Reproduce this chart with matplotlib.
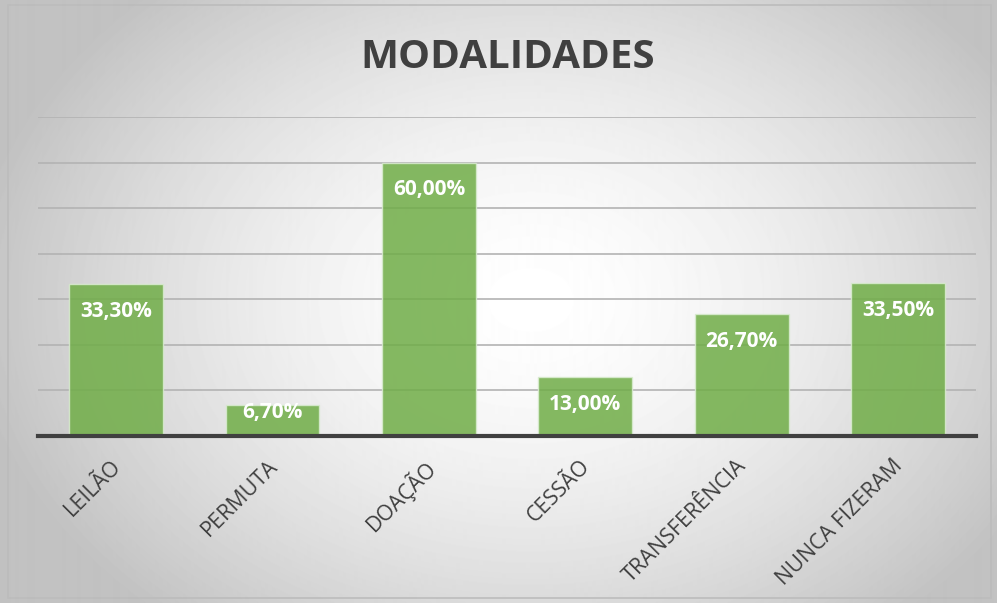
import numpy as np
import matplotlib.pyplot as plt
import matplotlib.transforms as mtransforms

# Data
categorias = ["LEILÃO", "PERMUTA", "DOAÇÃO", "CESSÃO", "TRANSFERÊNCIA", "NUNCA FIZERAM"]
valores = [33.3, 6.7, 60.0, 13.0, 26.7, 33.5]
rotulos = ["33,30%", "6,70%", "60,00%", "13,00%", "26,70%", "33,50%"]

plt.rcParams['font.family'] = ['Open Sans', 'DejaVu Sans']

fig = plt.figure(figsize=(9.97, 6.03), dpi=100)

# radial gradient background
bg = fig.add_axes([0, 0, 1, 1])
yy, xx = np.mgrid[0:603, 0:997]
r = np.sqrt(((xx - 530) / 560.0) ** 2 + ((yy - 300) / 420.0) ** 2)
shade = np.clip(1.0 - 0.24 * r ** 1.6, 0.76, 1.0)
bg.imshow(shade, cmap='gray', vmin=0, vmax=1, extent=[0, 997, 603, 0], aspect='auto')
bg.add_patch(plt.Rectangle((8, 5), 983, 593, fill=False, edgecolor='#bcbcbc', lw=1.2))
bg.set_xlim(0, 997)
bg.set_ylim(603, 0)
bg.axis('off')

ax = fig.add_axes([0.0381, 0.277, 0.941, 0.529])
ax.patch.set_alpha(0)
x = np.arange(len(categorias))
bars = ax.bar(x, valores, width=0.6, color='#70AD47', alpha=0.85,
              edgecolor='#d9ecd0', linewidth=1, zorder=3)

# labels inside end, but never lower than ~5.5%
for i, b in enumerate(bars):
    ypos = max(valores[i] - 6.0, 5.2)
    ax.text(b.get_x() + b.get_width() / 2, ypos, rotulos[i],
            ha='center', va='center', color='white', fontsize=15,
            fontweight='bold', zorder=4)

ax.set_xlim(-0.5, len(categorias) - 0.5)
ax.set_ylim(0, 70)
ax.set_yticks(np.arange(0, 71, 10))
ax.yaxis.grid(True, color='#b3b3b3', linewidth=1.2, zorder=0)
ax.tick_params(axis='y', left=False, labelleft=False)
ax.tick_params(axis='x', length=0, pad=14)
ax.set_xticks(x)
ax.set_xticklabels(categorias, rotation=45, ha='right', va='top',
                   rotation_mode='anchor', fontsize=15.5, color='#404040')
offset = mtransforms.ScaledTranslation(-4 / 72, 0, fig.dpi_scale_trans)
for lbl in ax.get_xticklabels():
    lbl.set_transform(lbl.get_transform() + offset)
for s in ['top', 'right', 'left']:
    ax.spines[s].set_visible(False)
ax.spines['bottom'].set_color('#404040')
ax.spines['bottom'].set_linewidth(3)
ax.spines['bottom'].set_zorder(5)

fig.text(0.509, 0.905, "MODALIDADES", ha='center', va='center',
         fontsize=29, fontweight='bold', color='#404040')

fig.savefig('out.png', dpi=100)
